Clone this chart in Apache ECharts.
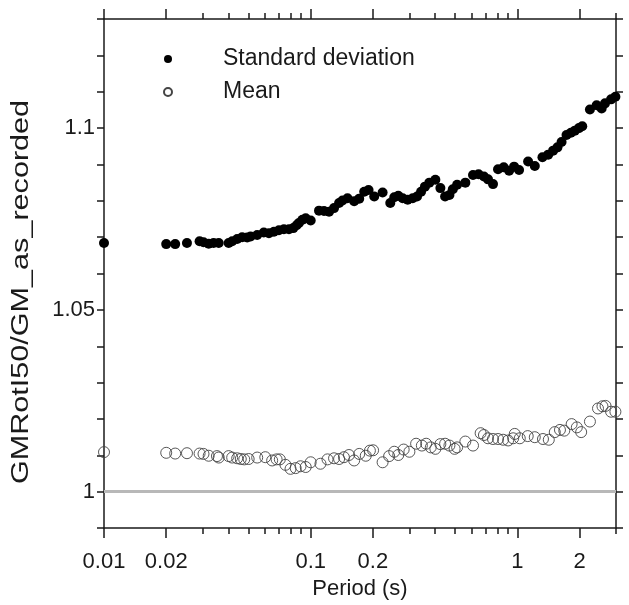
<!DOCTYPE html>
<html><head><meta charset="utf-8">
<script src="https://cdn.jsdelivr.net/npm/echarts@6/dist/echarts.min.js"></script>
<style>html,body{margin:0;padding:0;background:#fff}#c{width:629px;height:605px}</style>
</head><body><div id="c"></div>
<script>
// ---- data ----
const sdPeriod = [
  0.01, 0.02, 0.0221, 0.0252, 0.029, 0.0303, 0.0321, 0.0339, 0.0359, 0.0401,
  0.0417, 0.0441, 0.0466, 0.0493, 0.0512, 0.0551, 0.0593, 0.0628, 0.0664, 0.0702,
  0.0742, 0.0785, 0.0824, 0.0855, 0.0877, 0.0912, 0.0946, 0.1, 0.1097, 0.116,
  0.1227, 0.1297, 0.1372, 0.1425, 0.1507, 0.1623, 0.1717, 0.1815, 0.1905, 0.203,
  0.2228, 0.2427, 0.2537, 0.2653, 0.2786, 0.2946, 0.3116, 0.327, 0.342, 0.357,
  0.375, 0.401, 0.424, 0.447, 0.469, 0.487, 0.511, 0.56, 0.61, 0.649,
  0.689, 0.721, 0.762, 0.806, 0.859, 0.912, 0.964, 1.019, 1.127, 1.214,
  1.322, 1.409, 1.489, 1.563, 1.636, 1.729, 1.815, 1.897, 1.985, 2.06,
  2.244, 2.418, 2.557, 2.655, 2.84, 2.98
];
const sdValue = [
  1.0684, 1.0681, 1.0681, 1.0684, 1.0689, 1.0686, 1.0682, 1.0684, 1.0684, 1.0684,
  1.0689, 1.0695, 1.0700, 1.0699, 1.0702, 1.0706, 1.0713, 1.0711, 1.0715, 1.0719,
  1.0722, 1.0722, 1.0725, 1.0733, 1.0739, 1.0748, 1.0752, 1.0746, 1.0773, 1.0772,
  1.0770, 1.0780, 1.0794, 1.0801, 1.0807, 1.0799, 1.0806, 1.0825, 1.0830, 1.0812,
  1.0823, 1.0794, 1.0810, 1.0814, 1.0807, 1.0803, 1.0807, 1.0812, 1.0825, 1.0839,
  1.0850, 1.0858, 1.0835, 1.0812, 1.0816, 1.0832, 1.0844, 1.0850, 1.0871, 1.0873,
  1.0867, 1.0859, 1.0846, 1.0887, 1.0892, 1.0883, 1.0894, 1.0885, 1.0908, 1.0896,
  1.0920, 1.0927, 1.0938, 1.0947, 1.0962, 1.0981, 1.0987, 1.0993, 1.1000, 1.1005,
  1.1051, 1.1063, 1.1054, 1.1068, 1.1079, 1.1086
];
const meanPeriod = [
  0.01, 0.02, 0.0221, 0.0252, 0.029, 0.0303, 0.0321, 0.0352, 0.0359, 0.0401,
  0.0417, 0.0441, 0.0459, 0.0477, 0.0501, 0.0551, 0.0603, 0.0651, 0.0684, 0.0709,
  0.0755, 0.0799, 0.0846, 0.0893, 0.0946, 0.1, 0.1115, 0.1206, 0.1297, 0.1372,
  0.1448, 0.1532, 0.1623, 0.1717, 0.1847, 0.1934, 0.2004, 0.2228, 0.2396, 0.2537,
  0.2653, 0.2817, 0.3003, 0.3236, 0.345, 0.362, 0.381, 0.401, 0.424, 0.447,
  0.469, 0.497, 0.511, 0.56, 0.61, 0.664, 0.689, 0.721, 0.762, 0.806,
  0.853, 0.902, 0.954, 0.971, 1.027, 1.122, 1.214, 1.33, 1.419, 1.517,
  1.607, 1.686, 1.83, 1.939, 2.035, 2.244, 2.455, 2.58, 2.67, 2.84,
  2.98
];
const meanValue = [
  1.0109, 1.0107, 1.0105, 1.0106, 1.0105, 1.0104, 1.0099, 1.0098, 1.0094, 1.0098,
  1.0094, 1.0092, 1.0090, 1.0089, 1.0090, 1.0094, 1.0095, 1.0086, 1.0089, 1.0089,
  1.0074, 1.0063, 1.0065, 1.0070, 1.0068, 1.0081, 1.0077, 1.0089, 1.0092, 1.0090,
  1.0095, 1.0101, 1.0086, 1.0104, 1.0099, 1.0113, 1.0114, 1.0081, 1.0098, 1.0110,
  1.0101, 1.0116, 1.0110, 1.0132, 1.0127, 1.0132, 1.0122, 1.0118, 1.0131, 1.0132,
  1.0127, 1.0118, 1.0122, 1.0138, 1.0127, 1.0161, 1.0156, 1.0147, 1.0145, 1.0145,
  1.0143, 1.0141, 1.0147, 1.0159, 1.0147, 1.0153, 1.0150, 1.0145, 1.0143, 1.0164,
  1.0170, 1.0168, 1.0186, 1.0177, 1.0164, 1.0193, 1.0229, 1.0235, 1.0236, 1.0220,
  1.0220
];
const xMajorTicks = [0.01, 0.02, 0.1, 0.2, 1, 2];
const xMinorTicks = [0.03, 0.04, 0.05, 0.06, 0.07, 0.08, 0.09, 0.3, 0.4, 0.5, 0.6, 0.7, 0.8, 0.9, 3];
const yTickLabels = [1, 1.05, 1.1];
const referenceLine = 1;
const seriesNames = ['Standard deviation', 'Mean'];
const xTitle = 'Period (s)';
const yTitle = 'GMRotI50/GM_as_recorded';

// ---- chart ----
const FONT = 'Liberation Sans';
const INK = '#1a1a1a';
const chart = echarts.init(document.getElementById('c'), null, { renderer: 'canvas' });

function xAxisDef(pos, ticks, len, withLabels, withLine) {
  return {
    type: 'log', logBase: 10, min: 0.01, max: 3, position: pos, gridIndex: 0,
    axisLine: { show: withLine, lineStyle: { color: INK, width: 1.5 } },
    axisTick: { show: true, customValues: ticks, length: len, lineStyle: { color: INK, width: 1.5 } },
    axisLabel: withLabels ? {
      show: true, customValues: ticks, margin: 23,
      color: INK, fontFamily: FONT, fontSize: 22,
      formatter: v => String(+(+v).toPrecision(3))
    } : { show: false },
    splitLine: { show: false },
    name: withLabels ? xTitle : '',
    nameLocation: 'middle', nameGap: 40,
    nameTextStyle: { color: INK, fontFamily: FONT, fontSize: 22 }
  };
}
function yAxisDef(pos, withLabels) {
  return {
    type: 'value', min: 0.99, max: 1.13, interval: 0.01, position: pos,
    axisLine: { show: true, lineStyle: { color: INK, width: 1.5 } },
    axisTick: { show: true, length: 7, lineStyle: { color: INK, width: 1.5 } },
    axisLabel: withLabels ? {
      show: true, customValues: yTickLabels, margin: 9,
      color: INK, fontFamily: FONT, fontSize: 22,
      formatter: v => String(+(+v).toFixed(2))
    } : { show: false },
    splitLine: { show: false }
  };
}

const option = {
  animation: false,
  backgroundColor: '#fff',
  grid: { left: 104, right: 13, top: 19, bottom: 76, containLabel: false },
  legend: {
    orient: 'vertical', left: 158, top: 42, itemGap: 9,
    itemWidth: 8, itemHeight: 8,
    data: seriesNames.map(n => ({ name: n, icon: 'circle' })),
    textStyle: { color: INK, fontFamily: FONT, fontSize: 23, lineHeight: 24, padding: [0, 0, 0, 46] }
  },
  graphic: [{
    type: 'text',
    x: 22, y: 292,
    rotation: Math.PI / 2,
    scaleX: 1.33,
    style: {
      text: yTitle, fill: INK, font: '23px "Liberation Sans"',
      align: 'center', verticalAlign: 'middle'
    }
  }],
  xAxis: [
    xAxisDef('bottom', xMajorTicks, 10, true, true),
    xAxisDef('bottom', xMinorTicks, 6, false, false),
    xAxisDef('top', xMajorTicks, 10, false, true),
    xAxisDef('top', xMinorTicks, 6, false, false)
  ],
  yAxis: [yAxisDef('left', true), yAxisDef('right', false)],
  series: [
    {
      name: seriesNames[0], type: 'scatter', xAxisIndex: 0, yAxisIndex: 0,
      symbol: 'circle', symbolSize: 10,
      itemStyle: { color: '#000', opacity: 1 },
      data: sdPeriod.map((p, i) => [p, sdValue[i]]),
      z: 4
    },
    {
      name: seriesNames[1], type: 'scatter', xAxisIndex: 0, yAxisIndex: 0,
      symbol: 'circle', symbolSize: 11,
      itemStyle: { color: 'rgba(255,255,255,0)', borderColor: '#444', borderWidth: 0.9, opacity: 1 },
      data: meanPeriod.map((p, i) => [p, meanValue[i]]),
      markLine: {
        silent: true, symbol: ['none', 'none'], label: { show: false },
        lineStyle: { color: '#b8b8b8', width: 3, type: 'solid' },
        data: [{ yAxis: referenceLine }]
      },
      z: 3
    }
  ]
};
chart.setOption(option);
</script>
</body></html>
